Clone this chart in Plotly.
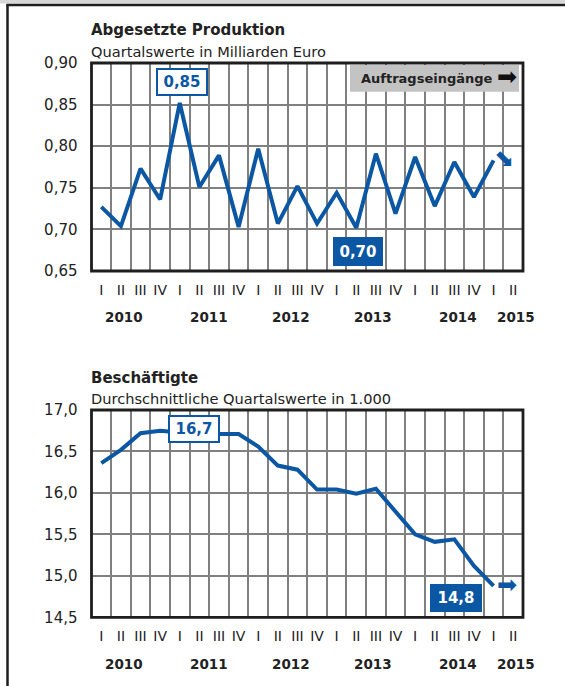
import plotly.graph_objects as go

W, H = 565, 686

# ---------------- data ----------------
quarter_labels = ["I", "II", "III", "IV"] * 5 + ["I", "II"]
year_labels = ["2010", "2011", "2012", "2013", "2014", "2015"]

produktion = [0.727, 0.704, 0.773, 0.736, 0.852, 0.751, 0.789, 0.703,
              0.797, 0.707, 0.752, 0.707, 0.744, 0.702, 0.791, 0.719,
              0.787, 0.728, 0.781, 0.739, 0.783]
beschaeftigte = [16.36, 16.52, 16.72, 16.75, 16.73, 16.71, 16.71, 16.71,
                 16.56, 16.33, 16.28, 16.04, 16.04, 15.99, 16.05, 15.77,
                 15.50, 15.41, 15.44, 15.12, 14.88]

prod_ticks = [0.65, 0.70, 0.75, 0.80, 0.85, 0.90]
besch_ticks = [14.5, 15.0, 15.5, 16.0, 16.5, 17.0]

prod_labels = ["0,85", "0,70"]
besch_labels = ["16,7", "14,8"]

# ---------------- style / layout helpers ----------------
BLUE = "#0b57a4"
GRID = "#808080"
DARK = "#1e1e1e"
TXT = "#222222"
FONT = "DejaVu Sans, sans-serif"

def px(x):
    return x / W

def py(y):
    return 1 - y / H

year_pos = [1.68, 5.98, 10.15, 14.33, 18.68, 21.64]
x_pos = [i + 0.5 for i in range(len(produktion))]
cat_pos = [i + 0.5 for i in range(len(quarter_labels))]

xdom = [px(91.5), px(523)]
ydom1 = [py(271), py(63)]
ydom2 = [py(617.3), py(410)]

fig = go.Figure()
fig.add_trace(go.Scatter(x=x_pos, y=produktion, mode="lines",
                         line=dict(color=BLUE, width=4),
                         xaxis="x", yaxis="y", hoverinfo="skip", showlegend=False))
fig.add_trace(go.Scatter(x=x_pos, y=beschaeftigte, mode="lines",
                         line=dict(color=BLUE, width=4),
                         xaxis="x2", yaxis="y2", hoverinfo="skip", showlegend=False))


def xaxis_cfg(anchor):
    return dict(domain=xdom, range=[0, len(quarter_labels)], anchor=anchor,
                tickmode="array", tickvals=cat_pos, ticktext=quarter_labels,
                showgrid=False, zeroline=False, ticks="", showline=False,
                ticklabelstandoff=9,
                tickfont=dict(family=FONT, size=14, color=TXT),
                minor=dict(tick0=0, dtick=1, showgrid=True, gridcolor=GRID,
                           gridwidth=2, ticks=""),
                fixedrange=True)


def yaxis_cfg(anchor, dom, rng, ticks, fmt):
    return dict(domain=dom, range=rng, anchor=anchor, tickmode="array",
                tickvals=ticks, tickformat=fmt, showgrid=True, gridcolor=GRID,
                gridwidth=2, zeroline=False, ticks="", showline=False,
                ticklabelstandoff=13,
                tickfont=dict(family=FONT, size=15, color=TXT),
                fixedrange=True)


shapes = []
# outer frame (cut off at right and bottom)
shapes.append(dict(type="rect", xref="paper", yref="paper", x0=0, x1=1,
                   y0=py(3.5), y1=1, fillcolor="#d8d8d8", line=dict(width=0),
                   layer="below"))
shapes.append(dict(type="line", xref="paper", yref="paper", x0=px(7.5), x1=px(7.5),
                   y0=py(5), y1=0, line=dict(color=DARK, width=2.5)))
shapes.append(dict(type="line", xref="paper", yref="paper", x0=px(6.3), x1=1,
                   y0=py(5), y1=py(5), line=dict(color=DARK, width=2.5)))
# plot area borders
for xa, ya in (("x", "y"), ("x2", "y2")):
    shapes.append(dict(type="rect", xref=xa + " domain", yref=ya + " domain",
                       x0=0, x1=1, y0=0, y1=1, line=dict(color=DARK, width=2.8),
                       layer="above"))
# gray "Auftragseingänge" box
shapes.append(dict(type="rect", xref="paper", yref="paper", x0=px(350), x1=px(519),
                   y0=py(91.7), y1=py(65), fillcolor="#c3c3c3",
                   line=dict(width=0), layer="above"))

ann = []


def text(x, y, s, size, bold=False, color=TXT, xanchor="left", xref="paper", **kw):
    ann.append(dict(x=x, y=y, xref=xref, yref="paper", text=("<b>%s</b>" % s) if bold else s,
                    showarrow=False, xanchor=xanchor, yanchor="middle",
                    font=dict(family=FONT, size=size, color=color), **kw))


# titles
text(px(89), py(30.5), "Abgesetzte Produktion", 15, bold=True)
text(px(89), py(51.5), "Quartalswerte in Milliarden Euro", 14.6)
text(px(89), py(377.5), "Beschäftigte", 15, bold=True)
text(px(89), py(398), "Durchschnittliche Quartalswerte in 1.000", 14.6)

# year labels
for yl, xp in zip(year_labels, year_pos):
    text(xp, py(316.5), yl, 13.5, bold=True, xanchor="center", xref="x")
    text(xp, py(664), yl, 13.5, bold=True, xanchor="center", xref="x2")

# Auftragseingänge
text(px(359), py(78.5), "Auftragseingänge", 13, bold=True)
text(px(507), py(77), "➡", 24, color="#111111", xanchor="center")

# value boxes


def box(cx, cy, w, h, s, filled):
    ann.append(dict(x=px(cx), y=py(cy), xref="paper", yref="paper",
                    text="<b>%s</b>" % s, showarrow=False,
                    xanchor="center", yanchor="middle",
                    width=w - 6, height=h - 6, borderpad=1, borderwidth=2,
                    bordercolor=BLUE, bgcolor=BLUE if filled else "white",
                    font=dict(family=FONT, size=15, color="white" if filled else BLUE)))


box(181.5, 82, 52, 28, prod_labels[0], False)
box(357.5, 251.7, 50, 29, prod_labels[1], True)
box(194, 429, 52, 28, besch_labels[0], False)
box(456, 598, 52, 28, besch_labels[1], True)

# blue arrows
text(px(505), py(158.5), "➡", 24, color=BLUE, xanchor="center", textangle=45)
text(px(507), py(585), "➡", 24, color=BLUE, xanchor="center")

fig.update_layout(
    width=W, height=H, margin=dict(l=0, r=0, t=0, b=0, pad=0, autoexpand=False),
    paper_bgcolor="white", plot_bgcolor="white",
    separators=",.",
    showlegend=False,
    xaxis=xaxis_cfg("y"),
    yaxis=yaxis_cfg("x", ydom1, [0.65, 0.90], prod_ticks, ".2f"),
    xaxis2=xaxis_cfg("y2"),
    yaxis2=yaxis_cfg("x2", ydom2, [14.5, 17.0], besch_ticks, ".1f"),
    shapes=shapes,
    annotations=ann,
)

fig.write_html("out.html",
               config={"displayModeBar": False, "staticPlot": True},
               post_script="document.body.style.margin='0';document.body.style.overflow='hidden';")
